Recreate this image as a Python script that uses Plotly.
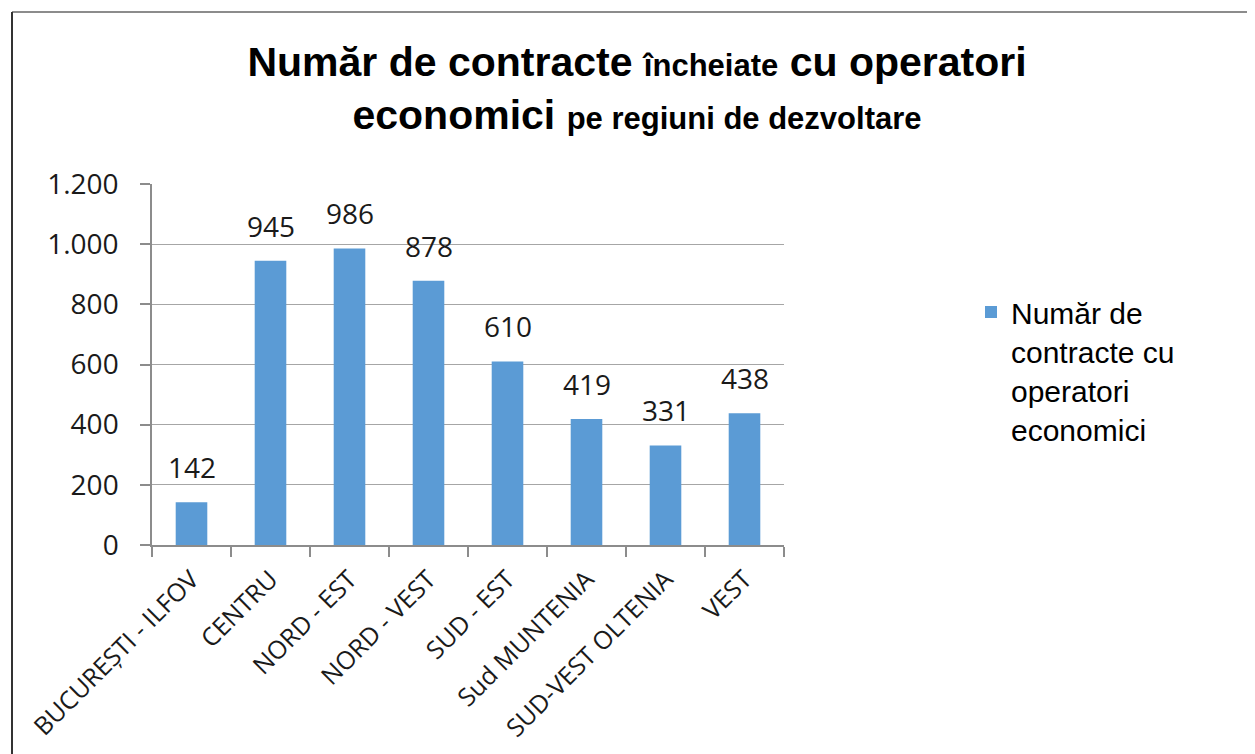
import plotly.graph_objects as go

categories = ["BUCUREȘTI - ILFOV", "CENTRU", "NORD - EST", "NORD - VEST", "SUD - EST",
              "Sud MUNTENIA", "SUD-VEST OLTENIA", "VEST"]
values = [142, 945, 986, 878, 610, 419, 331, 438]
series_name = "Număr de<br>contracte cu<br>operatori<br>economici"
y_ticks = [0, 200, 400, 600, 800, 1000, 1200]
y_tick_labels = ["0", "200", "400", "600", "800", "1.000", "1.200"]

W, H = 1255, 754
OFF = 8  # page body margin
L, R, T, B = 152 - OFF, 784 - OFF, 184 - OFF, 545 - OFF

def px_x(p):
    return (p - OFF - L) / (R - L)

def px_y(p):
    return (B - (p - OFF)) / (B - T)

fig = go.Figure()
fig.add_trace(go.Bar(
    x=categories, y=values, name=series_name,
    marker=dict(color="#5B9BD5", line=dict(width=0)),
    showlegend=True,
))

annotations = [
    dict(x=c, y=v, xref="x", yref="y", text=str(v), showarrow=False,
         yanchor="bottom", yshift=14,
         font=dict(family="Open Sans", size=28, color="#1a1a1a"))
    for c, v in zip(categories, values)
]

title_text = ("<b>Număr de contracte</b> <span style='font-size:31px'><b>încheiate</b></span> <b>cu operatori</b><br>"
              "<b>economici</b> <span style='font-size:31px'><b>pe regiuni de dezvoltare</b></span>")

fig.update_layout(
    width=W, height=H,
    margin=dict(l=L, r=W - R, t=T, b=H - B, pad=0),
    paper_bgcolor="white", plot_bgcolor="white",
    bargap=0.6,
    title=dict(text=title_text, x=(637 - OFF) / W, xanchor="center", xref="container",
               y=1 - (76 - OFF) / H, yanchor="top", yref="container",
               font=dict(family="Liberation Sans", size=41, color="#000")),
    xaxis=dict(
        type="category", tickangle=-45, showline=True, linecolor="#8c8c8c", linewidth=1.5,
        ticks="outside", ticklen=10, tickcolor="#8c8c8c", tickwidth=1.5, tickson="boundaries",
        tickfont=dict(family="Open Sans", size=25, color="#1a1a1a"), showgrid=False,
        ticklabelstandoff=8,
    ),
    yaxis=dict(
        range=[0, 1200], tickvals=y_ticks, ticktext=y_tick_labels,
        showline=True, linecolor="#8c8c8c", linewidth=1.5,
        ticks="outside", ticklen=10, tickcolor="#8c8c8c", tickwidth=1.5,
        showgrid=True, gridcolor="#a6a6a6", gridwidth=1.2, zeroline=False,
        tickfont=dict(family="Open Sans", size=28, color="#1a1a1a"),
        ticklabelstandoff=16,
    ),
    legend=dict(x=px_x(971), xanchor="left", y=px_y(286), yanchor="top",
                font=dict(family="Liberation Sans", size=30, color="#000"),
                valign="top", itemwidth=30, tracegroupgap=0, bgcolor="rgba(0,0,0,0)"),
    annotations=annotations,
    shapes=[
        dict(type="line", xref="paper", yref="paper", x0=px_x(12), x1=px_x(1270),
             y0=px_y(12), y1=px_y(12), line=dict(color="#8c8c8c", width=2)),
        dict(type="line", xref="paper", yref="paper", x0=px_x(12), x1=px_x(12),
             y0=px_y(12), y1=px_y(770), line=dict(color="#333333", width=2)),
    ],
)

fig.write_html("out.html")
